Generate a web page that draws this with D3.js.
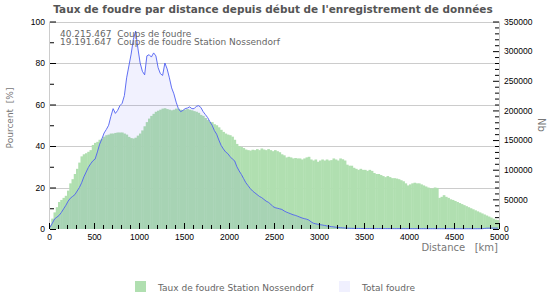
<!DOCTYPE html>
<html><head><meta charset="utf-8">
<script src="https://cdn.jsdelivr.net/npm/d3@7"></script>
<style>
body{margin:0;background:#fff}
svg{font-family:"DejaVu Sans",Verdana,sans-serif}
</style>
</head><body><svg id="c" width="550" height="300"></svg>
<script>
const title = "Taux de foudre par distance depuis début de l'enregistrement de données";
const infoLines = ["40.215.467  Coups de foudre", "19.191.647  Coups de foudre Station Nossendorf"];
const seriesNames = ["Taux de foudre Station Nossendorf", "Total foudre"];
const xTitle = "Distance   [km]";
const yLeftTitle = "Pourcent  [%]";
const yRightTitle = "Nb";
const xTicks = [0, 500, 1000, 1500, 2000, 2500, 3000, 3500, 4000, 4500, 5000];
const leftTicks = [0, 20, 40, 60, 80, 100];
const rightTicks = [0, 50000, 100000, 150000, 200000, 250000, 300000, 350000];
const maxKm = 5000;

// % of strikes recorded by the station, 25 km bins from 0 km
const stationPct = [
  2, 5, 8, 10.5, 13, 14, 15, 16, 18.5, 22,
  24, 26.5, 29, 32, 35, 36, 36.5, 37.2, 38, 40.5,
  41.5, 42, 43, 43.5, 44.5, 45.2, 45.5, 46, 46, 46.3,
  46.5, 46.5, 46.5, 46, 45.5, 44.4, 43.8, 43.6, 44, 45,
  46, 47.5, 49.5, 51.5, 53.2, 54.5, 55.5, 56.5, 57, 57.5,
  58, 58.2, 57.8, 57.5, 57.2, 57.5, 58, 58, 57.5, 57.3,
  57.5, 57.8, 57.5, 57.2, 56.8, 56.5, 56, 55, 54.5, 53.5,
  52.5, 51.6, 51.5, 50.5, 50, 49, 47.8, 46.8, 46, 45.5,
  45.2, 44.5, 43, 41, 40, 39.5, 39, 38.3, 38, 37.8,
  38.2, 38, 38.5, 38, 38.8, 38.3, 38, 38.5, 38, 37.5,
  38, 37.5, 37, 36, 35.5, 34.5, 34.8, 34.5, 34, 34.2,
  34, 34, 33.5, 34, 34.5, 34.8, 33.5, 33, 33.5, 32.4,
  33, 33.5, 33, 33.5, 33, 33.2, 34, 33.5, 33, 34,
  33.6, 33, 31, 30.5, 30.5, 29.5, 29, 28.5, 29, 28.5,
  28.5, 28, 28.5, 28, 27, 26.5, 26.5, 26, 25.5, 25,
  25.5, 25, 24.5, 24.5, 24.3, 24, 23.5, 23, 22, 21,
  21.5, 22, 22.3, 22, 22, 21.5, 21, 20.5, 20, 19.6,
  19.5, 20, 19.8, 15, 15.5, 16.3, 15.5, 15, 14.3, 14,
  13.5, 13, 12.5, 12, 11.5, 11, 10.5, 10, 9.5, 9,
  8.5, 8, 7.5, 7, 6.5, 6, 5.5, 5, 4.5, 4.3
];

// total strikes, 25 km bins from 0 km
const totalNb = [
  3000, 10000, 17000, 20000, 23000, 28000, 34000, 40000, 47000, 52000,
  55000, 58000, 64000, 70000, 78000, 88000, 96000, 104000, 110000, 115000,
  118000, 130000, 143000, 152000, 162000, 168000, 175000, 190000, 203000, 195000,
  200000, 208000, 212000, 225000, 255000, 275000, 295000, 320000, 334000, 305000,
  280000, 266000, 260000, 292000, 294000, 290000, 297000, 292000, 272000, 262000,
  259000, 280000, 270000, 255000, 238000, 228000, 214000, 203000, 198000, 200000,
  203000, 204000, 206000, 203000, 203000, 207000, 208000, 205000, 198000, 193000,
  188000, 181000, 175000, 166000, 160000, 150000, 141000, 135000, 130000, 127000,
  122000, 118000, 115000, 105000, 98000, 92000, 85000, 78000, 73000, 68000,
  64000, 61000, 58000, 55000, 53000, 50000, 47000, 45000, 42000, 38000,
  36000, 35000, 34000, 33000, 30500, 28500, 27000, 25500, 24000, 23000,
  21500, 20000, 18500, 17500, 16500, 15000, 12000, 9800, 8800, 8000,
  7200, 6700, 6000, 5200, 4600, 4000, 3600, 3000, 2600, 2200,
  1900, 1600, 1400, 1200, 1100, 1000, 950, 900, 850, 800,
  780, 760, 740, 720, 700, 700, 680, 660, 650, 640,
  630, 620, 610, 600, 600, 590, 580, 580, 570, 560,
  560, 550, 550, 540, 540, 530, 530, 520, 520, 510,
  510, 500, 500, 500, 490, 490, 480, 480, 480, 470,
  470, 470, 460, 460, 460, 450, 450, 450, 440, 440,
  440, 450, 500, 900, 1300, 1400, 1500, 1500, 1500, 1500
];

const C = {green:"#b0dfb0", area:"rgba(40,40,240,0.065)", line:"#4f60f2", grid:"#cccccc", axisTitle:"#777", title:"#555", text:"#666"};

const svg = d3.select("#c");
const x = d3.scaleLinear().domain([0, maxKm]).range([49, 499]);
const yL = d3.scaleLinear().domain([0, 100]).range([229, 21.5]);
const yR = d3.scaleLinear().domain([0, 350000]).range([229, 21.5]);
const binW = maxKm / stationPct.length;

// grid
svg.append("g").selectAll("line").data(leftTicks.filter(d => d > 0)).join("line")
  .attr("x1", x(0)).attr("x2", x(maxKm))
  .attr("y1", d => Math.round(yL(d)) + 0.5).attr("y2", d => Math.round(yL(d)) + 0.5)
  .attr("stroke", C.grid);

// green bars
svg.append("g").selectAll("rect").data(stationPct).join("rect")
  .attr("x", (d, i) => x(i * binW))
  .attr("width", (d, i) => x((i + 1) * binW) - x(i * binW) + 0.4)
  .attr("y", d => yL(d))
  .attr("height", d => yL(0) - yL(d))
  .attr("fill", C.green);

// total area + line
const pts = totalNb.map((v, i) => [x(i * binW + binW / 2), yR(v)]);
svg.append("path")
  .attr("d", d3.area().x(d => d[0]).y0(yR(0)).y1(d => d[1])(pts))
  .attr("fill", C.area);
svg.append("path")
  .attr("d", d3.line()(pts))
  .attr("fill", "none").attr("stroke", C.line).attr("stroke-width", 0.9);

// axis lines
svg.append("line").attr("x1", 49.5).attr("x2", 49.5).attr("y1", 21.5).attr("y2", 229).attr("stroke", C.grid);
svg.append("line").attr("x1", 499.5).attr("x2", 499.5).attr("y1", 21.5).attr("y2", 229).attr("stroke", C.grid);

// left axis (ticks inward)
const gl = svg.append("g").attr("transform", "translate(50,0)")
  .call(d3.axisLeft(yL).tickValues(leftTicks).tickSize(-6).tickPadding(5).tickFormat(d3.format("d")));
gl.select(".domain").remove();
svg.append("g").attr("transform", "translate(50,0)")
  .call(d3.axisLeft(yL).tickValues(d3.range(10, 100, 20)).tickSize(-4).tickFormat(""))
  .select(".domain").remove();

// right axis
const gr = svg.append("g").attr("transform", "translate(499,0)")
  .call(d3.axisRight(yR).tickValues(rightTicks).tickSize(-6).tickPadding(5).tickFormat(d3.format("d")));
gr.select(".domain").remove();
svg.append("g").attr("transform", "translate(499,0)")
  .call(d3.axisRight(yR).tickValues(d3.range(10000, 350000, 10000).filter(v => v % 50000)).tickSize(-4).tickFormat(""))
  .select(".domain").remove();

// bottom axis
const gb = svg.append("g").attr("transform", "translate(0,229)")
  .call(d3.axisBottom(x).tickValues(xTicks).tickSize(-6).tickPadding(5).tickFormat(d3.format("d")));
gb.select(".domain").remove();
svg.append("g").attr("transform", "translate(0,229)")
  .call(d3.axisBottom(x).tickValues(d3.range(100, 5000, 100).filter(v => v % 500)).tickSize(-4).tickFormat(""))
  .select(".domain").remove();

svg.selectAll(".tick text").attr("font-size", 8.5).attr("font-family", null).attr("fill", "#000");
svg.selectAll(".tick line").attr("stroke", "#000");

// titles
const tt = svg.append("text").attr("x", 273).attr("y", 12.5).attr("text-anchor", "middle")
  .attr("font-size", 10).attr("font-weight", "bold").attr("fill", C.title).text(title);
const tw = tt.node().getComputedTextLength();
if (tw > 0) tt.attr("font-size", 10 * 440 / tw);

svg.append("text").attr("x", 498).attr("y", 250.5).attr("text-anchor", "end")
  .attr("font-size", 10).attr("fill", C.axisTitle).attr("xml:space", "preserve").text(xTitle);
svg.append("text").attr("transform", "translate(13,118) rotate(-90)").attr("text-anchor", "middle")
  .attr("font-size", 9).attr("fill", C.axisTitle).attr("xml:space", "preserve").text(yLeftTitle);
svg.append("text").attr("transform", "translate(537.5,125) rotate(90)").attr("text-anchor", "middle")
  .attr("font-size", 10).attr("fill", C.axisTitle).text(yRightTitle);

// info lines
svg.append("g").selectAll("text").data(infoLines).join("text")
  .attr("x", 60).attr("y", (d, i) => 36.5 + i * 8)
  .attr("font-size", 9).attr("fill", C.text).attr("xml:space", "preserve").text(d => d);

// legend
const leg = [{name: seriesNames[0], fill: C.green, x: 135}, {name: seriesNames[1], fill: "#f0f0fe", x: 339}];
const lg = svg.append("g").selectAll("g").data(leg).join("g").attr("transform", d => `translate(${d.x},281)`);
lg.append("rect").attr("width", 11).attr("height", 11).attr("fill", d => d.fill);
lg.append("text").attr("x", 23).attr("y", 10).attr("font-size", 9).attr("fill", C.text).text(d => d.name);
</script>
</body></html>
